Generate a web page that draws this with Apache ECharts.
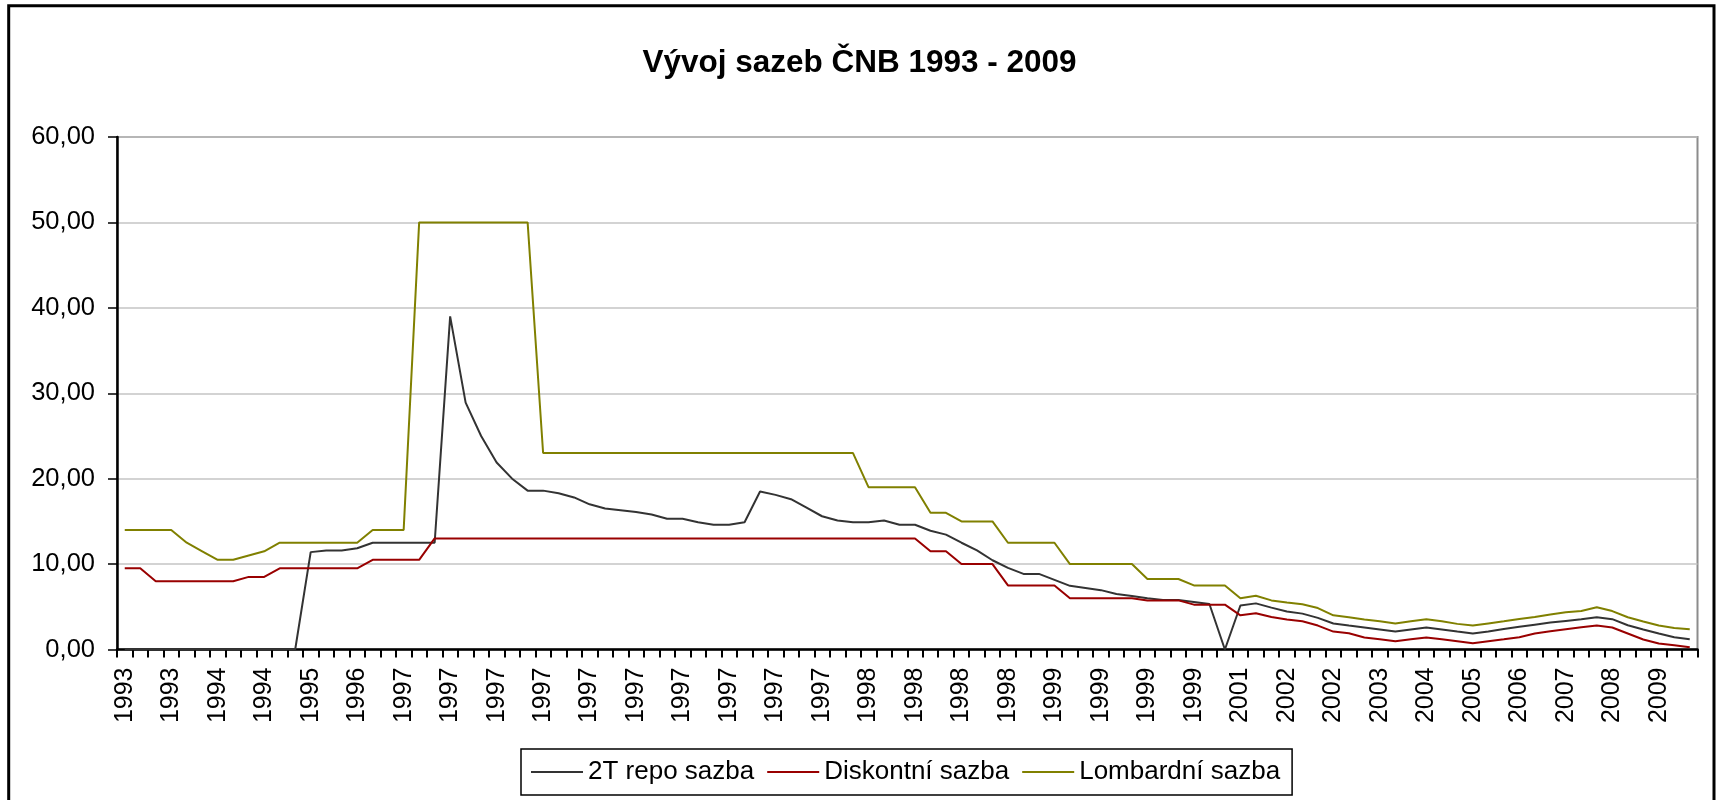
<!DOCTYPE html>
<html>
<head>
<meta charset="utf-8">
<script src="https://cdn.jsdelivr.net/npm/echarts@6/dist/echarts.min.js"></script>
<style>
html,body{margin:0;padding:0;background:#fff;}
#chart{width:1719px;height:800px;}
</style>
</head>
<body>
<div id="chart"></div>
<script>
const titleText = 'Vývoj sazeb ČNB 1993 - 2009';
const seriesNames = ['2T repo sazba', 'Diskontní sazba', 'Lombardní sazba'];
const seriesColors = ['#333333', '#990000', '#808000'];

const categories = [
  '1993','1993','1993','1993','1993','1994','1994','1994','1994','1994',
  '1994','1995','1995','1995','1996','1996','1996','1997','1997','1997',
  '1997','1997','1997','1997','1997','1997','1997','1997','1997','1997',
  '1997','1997','1997','1997','1997','1997','1997','1997','1997','1997',
  '1997','1997','1997','1997','1997','1997','1997','1997','1998','1998',
  '1998','1998','1998','1998','1998','1998','1998','1998','1998','1998',
  '1999','1999','1999','1999','1999','1999','1999','1999','1999','1999',
  '2000','2000','2001','2001','2002','2002','2002','2002','2002','2003',
  '2003','2003','2003','2004','2004','2004','2005','2005','2005','2006',
  '2006','2007','2007','2007','2008','2008','2008','2008','2009','2009',
  '2009','2009'
];

const repo = [
  0,0,0,0,0,0,0,0,0,0,
  0,0,11.4,11.6,11.6,11.85,12.5,12.5,12.5,12.5,
  12.5,39.0,28.9,25.0,21.9,20.0,18.6,18.6,18.3,17.8,
  17.0,16.5,16.3,16.1,15.8,15.3,15.3,14.9,14.6,14.6,
  14.9,18.5,18.1,17.6,16.6,15.6,15.1,14.9,14.9,15.1,
  14.6,14.6,13.9,13.45,12.5,11.6,10.45,9.55,8.85,8.85,
  8.15,7.45,7.2,6.95,6.5,6.25,6.0,5.8,5.8,5.57,
  5.33,0,5.15,5.4,4.9,4.45,4.2,3.7,3.04,2.8,
  2.57,2.34,2.1,2.34,2.57,2.34,2.1,1.87,2.1,2.4,
  2.65,2.9,3.15,3.35,3.55,3.77,3.55,2.84,2.34,1.87,
  1.44,1.2
];

const discount = [
  9.5,9.5,8.0,8.0,8.0,8.0,8.0,8.0,8.5,8.5,
  9.5,9.5,9.5,9.5,9.5,9.5,10.5,10.5,10.5,10.5,
  13,13,13,13,13,13,13,13,13,13,
  13,13,13,13,13,13,13,13,13,13,
  13,13,13,13,13,13,13,13,13,13,
  13,13,11.5,11.5,10.0,10.0,10.0,7.5,7.5,7.5,
  7.5,6.0,6.0,6.0,6.0,6.0,5.75,5.75,5.75,5.25,
  5.25,5.25,4.0,4.25,3.8,3.5,3.3,2.8,2.1,1.9,
  1.4,1.2,0.97,1.2,1.4,1.2,0.97,0.73,0.97,1.2,
  1.44,1.87,2.14,2.38,2.6,2.8,2.57,1.87,1.17,0.7,
  0.5,0.27
];

const lombard = [
  14,14,14,14,12.5,11.5,10.5,10.5,11.0,11.5,
  12.5,12.5,12.5,12.5,12.5,12.5,14,14,14,50,
  50,50,50,50,50,50,50,23,23,23,
  23,23,23,23,23,23,23,23,23,23,
  23,23,23,23,23,23,23,23,19,19,
  19,19,16,16,15,15,15,12.5,12.5,12.5,
  12.5,10,10,10,10,10,8.25,8.25,8.25,7.5,
  7.5,7.5,6.0,6.3,5.75,5.5,5.3,4.85,4.0,3.78,
  3.5,3.3,3.05,3.3,3.55,3.3,3.0,2.8,3.05,3.3,
  3.57,3.8,4.1,4.35,4.5,4.95,4.5,3.77,3.27,2.8,
  2.53,2.38
];

const yMin = 0, yMax = 60, yStep = 10;

const FONT = '"Liberation Sans", Arial, sans-serif';
const chart = echarts.init(document.getElementById('chart'));

function lineSeries(name, data, color) {
  return {
    name: name,
    type: 'line',
    data: data,
    symbol: 'none',
    showSymbol: false,
    smooth: false,
    lineStyle: { color: color, width: 2 },
    itemStyle: { color: color },
    emphasis: { disabled: true },
    animation: false
  };
}

chart.setOption({
  animation: false,
  backgroundColor: '#ffffff',
  title: {
    text: titleText,
    left: 'center',
    top: 42,
    textStyle: { fontFamily: FONT, fontSize: 31.5, fontWeight: 'bold', color: '#000' }
  },
  graphic: [{
    type: 'rect',
    silent: true,
    shape: { x: 8.7, y: 5.7, width: 1705.3, height: 900 },
    style: { fill: 'none', stroke: '#000', lineWidth: 3 }
  }],
  legend: {
    data: seriesNames,
    left: 521,
    top: 749,
    orient: 'horizontal',
    icon: 'rect',
    itemWidth: 52,
    itemHeight: 2,
    itemGap: 13,
    padding: [10, 12, 10, 10],
    borderColor: '#000',
    borderWidth: 1.5,
    textStyle: { fontFamily: FONT, fontSize: 26, color: '#000' }
  },
  grid: {
    left: 117,
    right: 21.5,
    top: 137,
    bottom: 150.5,
    show: true,
    borderColor: '#8c8c8c',
    borderWidth: 2,
    backgroundColor: 'transparent'
  },
  xAxis: {
    type: 'category',
    data: categories,
    boundaryGap: true,
    axisLine: { show: true, onZero: false, lineStyle: { color: '#000', width: 2.5 } },
    axisTick: { show: true, interval: 0, alignWithLabel: false, length: 8, inside: false,
      lineStyle: { color: '#000', width: 2 } },
    axisLabel: { interval: 2, rotate: 90, margin: 18, fontFamily: FONT, fontSize: 25, color: '#000' },
    splitLine: { show: false }
  },
  yAxis: {
    type: 'value',
    min: yMin,
    max: yMax,
    interval: yStep,
    axisLine: { show: true, lineStyle: { color: '#000', width: 2.5 } },
    axisTick: { show: true, length: 9, inside: false, lineStyle: { color: '#000', width: 1.5 } },
    axisLabel: {
      margin: 22,
      fontFamily: FONT,
      fontSize: 25.5,
      color: '#000',
      formatter: function (v) { return v.toFixed(2).replace('.', ','); }
    },
    splitLine: { show: true, lineStyle: { color: '#c4c4c4', width: 1.5 } }
  },
  series: [
    lineSeries(seriesNames[0], repo, seriesColors[0]),
    lineSeries(seriesNames[1], discount, seriesColors[1]),
    lineSeries(seriesNames[2], lombard, seriesColors[2])
  ]
});
</script>
</body>
</html>
